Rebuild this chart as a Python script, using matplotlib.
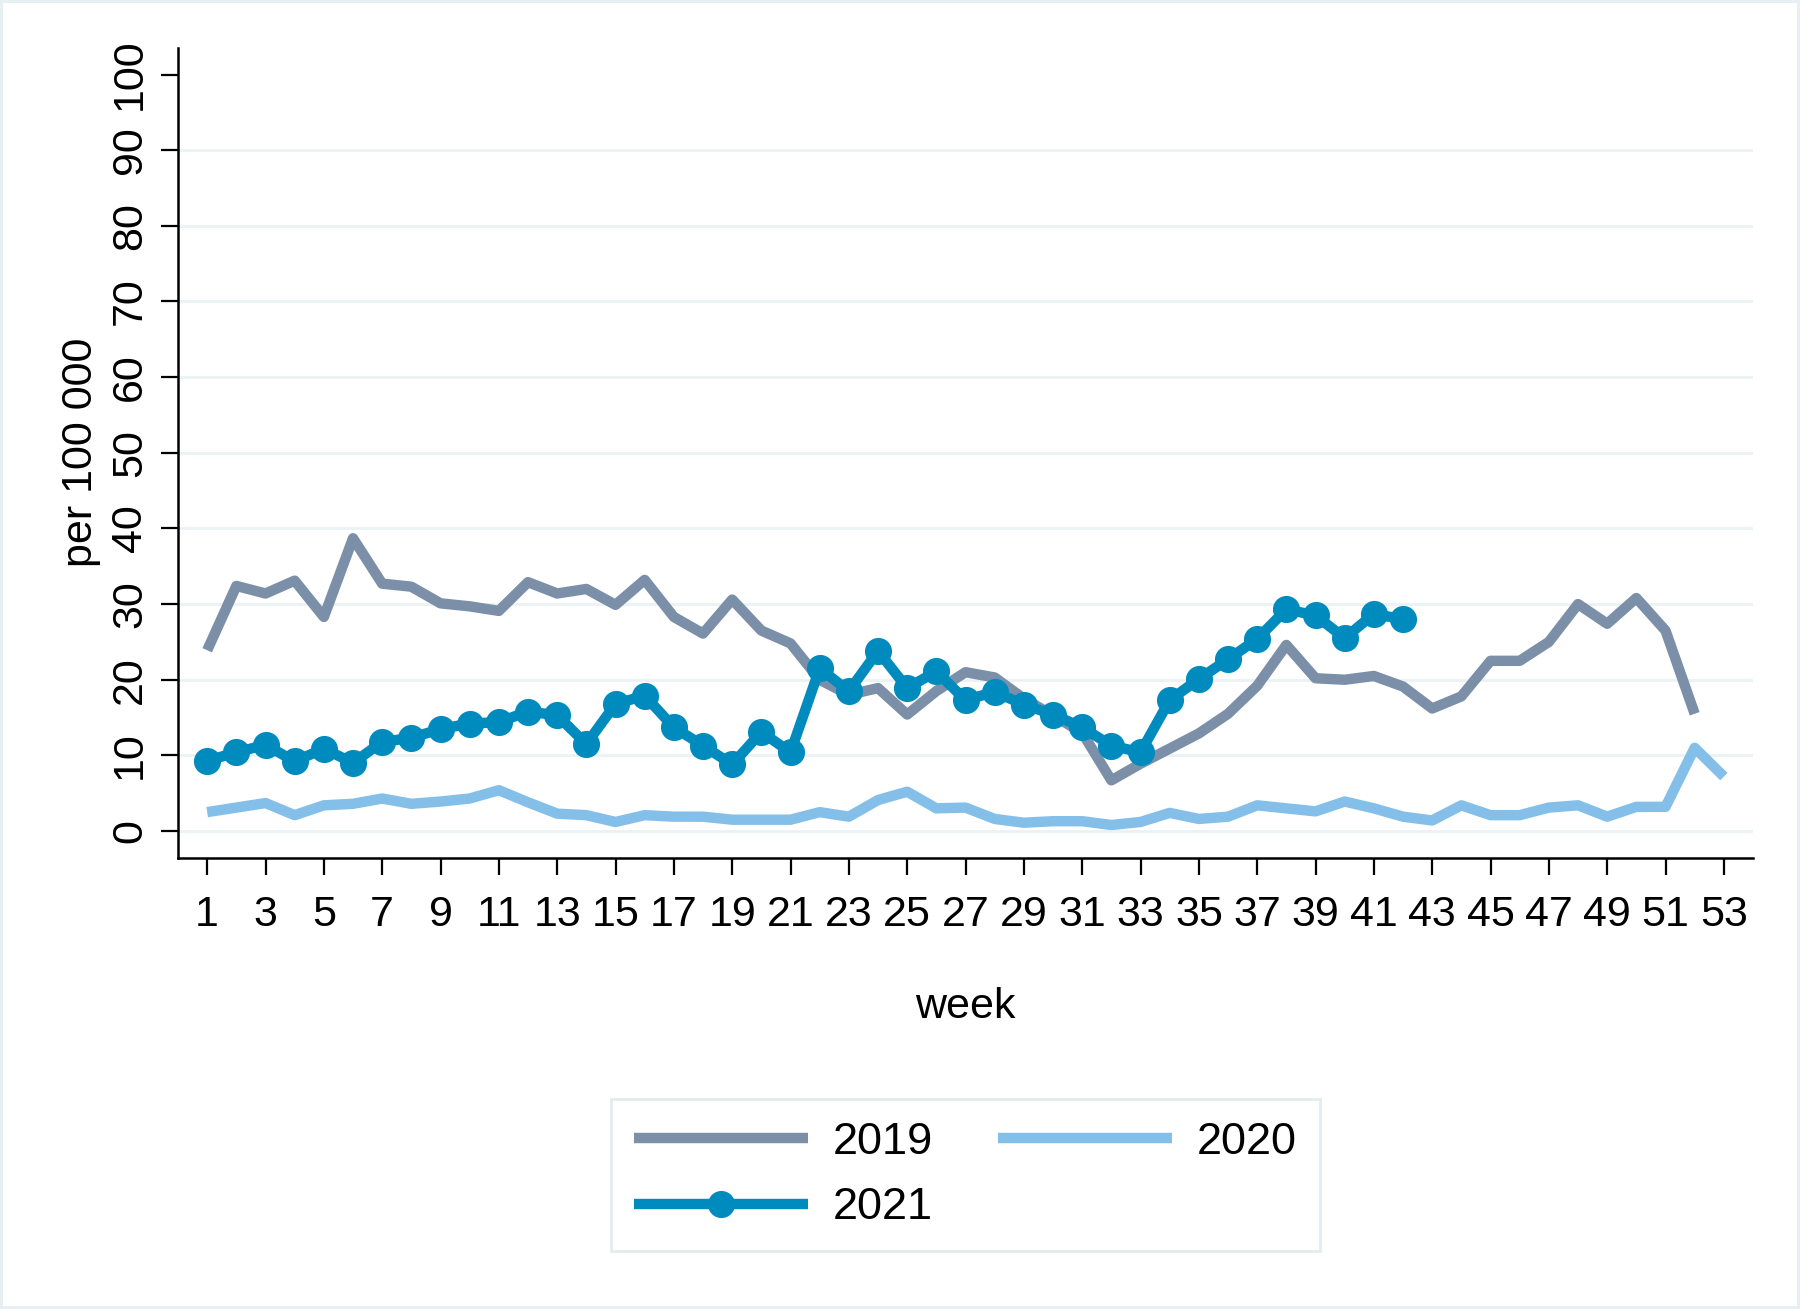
import numpy as np
import matplotlib
matplotlib.use("Agg")
import matplotlib.pyplot as plt

plt.rcParams['font.family'] = ['Liberation Sans', 'DejaVu Sans']

# Data (cases per 100 000, by week)
weeks_2019 = np.arange(1, 53)
rate_2019 = [23.9, 32.4, 31.4, 33.1, 28.3, 38.7, 32.7, 32.3, 30.1, 29.7,
             29.1, 32.9, 31.4, 32.0, 29.9, 33.2, 28.3, 26.1, 30.6, 26.5,
             24.8, 20.0, 18.0, 18.9, 15.4, 18.5, 21.0, 20.3, 17.5, 15.3,
             13.0, 6.7, 8.9, 10.9, 12.9, 15.5, 19.2, 24.6, 20.2, 20.0,
             20.5, 19.1, 16.2, 17.8, 22.5, 22.5, 25.0, 30.0, 27.4, 30.8,
             26.5, 15.5]

weeks_2020 = np.arange(1, 54)
rate_2020 = [2.5, 3.1, 3.7, 2.1, 3.4, 3.6, 4.3, 3.6, 3.9, 4.3,
             5.4, 3.8, 2.3, 2.1, 1.2, 2.1, 1.9, 1.9, 1.5, 1.5,
             1.5, 2.5, 1.9, 4.1, 5.2, 3.0, 3.1, 1.6, 1.1, 1.3,
             1.3, 0.8, 1.2, 2.4, 1.6, 1.9, 3.4, 3.0, 2.6, 3.9,
             3.0, 1.9, 1.4, 3.4, 2.1, 2.1, 3.1, 3.4, 1.9, 3.2,
             3.2, 11.0, 7.2]

weeks_2021 = np.arange(1, 43)
rate_2021 = [9.3, 10.4, 11.4, 9.2, 10.9, 9.0, 11.8, 12.3, 13.5, 14.2,
             14.4, 15.8, 15.3, 11.5, 16.8, 17.9, 13.7, 11.3, 8.8, 13.1,
             10.4, 21.5, 18.5, 23.8, 18.9, 21.1, 17.3, 18.4, 16.7, 15.4,
             13.7, 11.3, 10.4, 17.3, 20.1, 22.7, 25.4, 29.3, 28.5, 25.5,
             28.7, 28.0]

xticks = np.arange(1, 54, 2)
yticks = np.arange(0, 101, 10)

c2019 = '#7B90A8'
c2020 = '#84BFE9'
c2021 = '#008BBE'
grid_c = '#EAF2F3'

fig = plt.figure(figsize=(18, 13.09), dpi=100)
fig.patch.set_edgecolor('#E6EFF1')
fig.patch.set_linewidth(4)
ax = fig.add_axes([0.0989, 0.3449, 0.8750, 0.6184])

# horizontal grid
for yv in yticks[:-1]:
    ax.axhline(yv, color=grid_c, lw=2.0, zorder=0)

lw = 7.5
l19, = ax.plot(weeks_2019, rate_2019, color=c2019, lw=lw, solid_capstyle='butt', zorder=2)
l20, = ax.plot(weeks_2020, rate_2020, color=c2020, lw=lw, solid_capstyle='butt', zorder=2)
l21, = ax.plot(weeks_2021, rate_2021, color=c2021, lw=lw, marker='o', markersize=18.5,
               solid_capstyle='butt', zorder=3)

ax.set_xlim(0, 54)
ax.set_ylim(-3.5, 103.5)
ax.set_xticks(xticks)
ax.set_yticks(yticks)
ax.tick_params(axis='both', labelsize=31, length=12, width=1.6, pad=8, color='black')
ax.tick_params(axis='x', pad=15)
for lab in ax.get_yticklabels():
    lab.set_rotation(90)
    lab.set_va('center')

for s in ['top', 'right']:
    ax.spines[s].set_visible(False)
for s in ['left', 'bottom']:
    ax.spines[s].set_linewidth(1.8)

ax.set_xlabel('week', fontsize=31)
ax.xaxis.set_label_coords(0.5, -0.185)
ax.xaxis.label.set_va('center')
ax.set_ylabel('per 100 000', fontsize=31)
ax.yaxis.set_label_coords(-0.0616, 0.5)
ax.yaxis.label.set_va('center')

leg = fig.legend([l19, l21, l20], ['2019', '2021', '2020'], ncol=2,
                 loc='upper center', bbox_to_anchor=(0.5364, 0.1604),
                 borderaxespad=0, fontsize=32.5, handlelength=3.85,
                 handletextpad=0.55, columnspacing=1.45, labelspacing=0.55,
                 borderpad=0.5, fancybox=False, framealpha=1)
leg.get_frame().set_edgecolor('#E3ECEE')
leg.get_frame().set_linewidth(2)

fig.savefig('out.png', dpi=100)
